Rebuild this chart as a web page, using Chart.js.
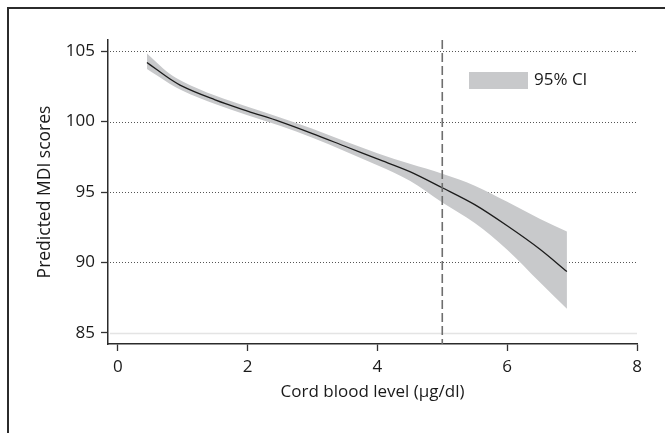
<!DOCTYPE html>
<html>
<head>
<meta charset="utf-8">
<script src="https://cdn.jsdelivr.net/npm/chart.js@4.4.1/dist/chart.umd.min.js"></script>
<style>
	html, body { margin: 0; padding: 0; background: #fff; }
	#wrap { position: relative; width: 665px; height: 433px; }
	#frame { position: absolute; left: 7px; top: 7px; right: 0; bottom: 0; border-top: 2px solid #2b2b2b; border-left: 2px solid #2b2b2b; }
	#cordChart { position: absolute; left: 0; top: 0; }
</style>
</head>
<body>
<div id="wrap">
	<div id="frame"></div>
	<canvas id="cordChart" width="665" height="433"></canvas>
</div>
<script>
// cord blood level (ug/dl)
var levels = [0.45, 0.6, 0.8, 1.0, 1.5, 2.0, 2.5, 3.0, 3.5, 4.0, 4.5, 5.0, 5.5, 6.0, 6.5, 6.92];
// predicted MDI score and 95% CI
var predicted = [104.2, 103.7, 103.05, 102.5, 101.55, 100.75, 100.0, 99.15, 98.25, 97.35, 96.45, 95.3, 94.1, 92.6, 90.95, 89.35];
var ciLower = [103.75, 103.3, 102.7, 102.2, 101.25, 100.45, 99.7, 98.85, 97.9, 96.9, 95.8, 94.25, 92.8, 90.9, 88.6, 86.7];
var ciUpper = [104.85, 104.2, 103.4, 102.85, 101.85, 101.05, 100.3, 99.5, 98.6, 97.75, 97.0, 96.3, 95.45, 94.3, 93.1, 92.2];

var xTicks = [0, 2, 4, 6, 8];
var yTicks = [85, 90, 95, 100, 105];
var cutoff = 5;
var legendLabel = "95% CI";

var chart = {};

chart.font = "'Open Sans', 'Noto Sans', sans-serif";
chart.bandColor = "#c8c9cb";
chart.textColor = "#1a1a1a";

chart.toPoints = function(values){
	return levels.map(function(x, i){ return {x: x, y: values[i]}; });
};

// dotted grid, reference line at x = 5, and the legend inside the plot
chart.extras = {
	id: 'extras',
	beforeDatasetsDraw: function(c){
		var ctx = c.ctx;
		var area = c.chartArea;
		var ys = c.scales.y;
		ctx.save();
		yTicks.forEach(function(v){
			var py = Math.round(ys.getPixelForValue(v)) + 0.5;
			ctx.beginPath();
			if ( v === yTicks[0] )
			{
				ctx.setLineDash([]);
				ctx.strokeStyle = '#e4e4e4';
				ctx.lineWidth = 1.5;
			}
			else
			{
				ctx.setLineDash([1, 2]);
				ctx.strokeStyle = '#555';
				ctx.lineWidth = 1;
			}
			ctx.moveTo(area.left + 2, py);
			ctx.lineTo(area.right, py);
			ctx.stroke();
		});
		ctx.restore();
	},
	afterDatasetsDraw: function(c){
		var ctx = c.ctx;
		var area = c.chartArea;
		var px = c.scales.x.getPixelForValue(cutoff);
		ctx.save();
		ctx.beginPath();
		ctx.setLineDash([9, 4]);
		ctx.strokeStyle = '#6e6e6e';
		ctx.lineWidth = 1.6;
		ctx.moveTo(px, area.top);
		ctx.lineTo(px, area.bottom);
		ctx.stroke();

		ctx.setLineDash([]);
		ctx.fillStyle = chart.bandColor;
		ctx.fillRect(469, 72, 59, 17);
		ctx.fillStyle = chart.textColor;
		ctx.font = "17px " + chart.font;
		ctx.textBaseline = 'middle';
		ctx.fillText(legendLabel, 534, 80);
		ctx.restore();
	}
};

chart.init = function(){
	var ctx = document.getElementById('cordChart');

	new Chart(ctx, {
		type: 'line',
		data: {
			datasets: [
				{
					label: 'predicted',
					data: chart.toPoints(predicted),
					borderColor: '#1c1c1c',
					borderWidth: 1.3,
					pointRadius: 0,
					fill: false,
					cubicInterpolationMode: 'monotone'
				},
				{
					label: 'upper',
					data: chart.toPoints(ciUpper),
					borderWidth: 0,
					borderColor: 'rgba(0,0,0,0)',
					pointRadius: 0,
					fill: '+1',
					backgroundColor: chart.bandColor,
					cubicInterpolationMode: 'monotone'
				},
				{
					label: 'lower',
					data: chart.toPoints(ciLower),
					borderWidth: 0,
					borderColor: 'rgba(0,0,0,0)',
					pointRadius: 0,
					fill: false,
					cubicInterpolationMode: 'monotone'
				}
			]
		},
		options: {
			responsive: false,
			animation: false,
			devicePixelRatio: 1,
			layout: { padding: { left: 0, top: 40, right: 28, bottom: 0 } },
			plugins: {
				legend: { display: false },
				tooltip: { enabled: false }
			},
			scales: {
				x: {
					type: 'linear',
					min: -0.15,
					max: 8,
					afterFit: function(s){ s.height = 89; },
					afterBuildTicks: function(s){ s.ticks = xTicks.map(function(v){ return {value: v}; }); },
					grid: { drawOnChartArea: false, drawTicks: true, tickLength: 7, tickColor: '#333', tickWidth: 1.3 },
					border: { display: true, color: '#2b2b2b', width: 1.5 },
					ticks: { color: chart.textColor, padding: 6, font: { family: chart.font, size: 17 }, maxRotation: 0 },
					title: {
						display: true,
						text: 'Cord blood level (μg/dl)',
						color: chart.textColor,
						font: { family: chart.font, size: 17 },
						padding: { top: 0, bottom: 31 }
					}
				},
				y: {
					min: 84.2,
					max: 105.8,
					afterFit: function(s){ s.width = 108; },
					afterBuildTicks: function(s){ s.ticks = yTicks.map(function(v){ return {value: v}; }); },
					grid: { drawOnChartArea: false, drawTicks: true, tickLength: 7, tickColor: '#333', tickWidth: 1.3 },
					border: { display: true, color: '#2b2b2b', width: 1.5 },
					ticks: { color: chart.textColor, padding: 6, font: { family: chart.font, size: 17 } },
					title: {
						display: true,
						text: 'Predicted MDI scores',
						color: chart.textColor,
						font: { family: chart.font, size: 17.5 },
						padding: { top: 35, bottom: 0 }
					}
				}
			}
		},
		plugins: [chart.extras]
	});
};

chart.init();
</script>
</body>
</html>
